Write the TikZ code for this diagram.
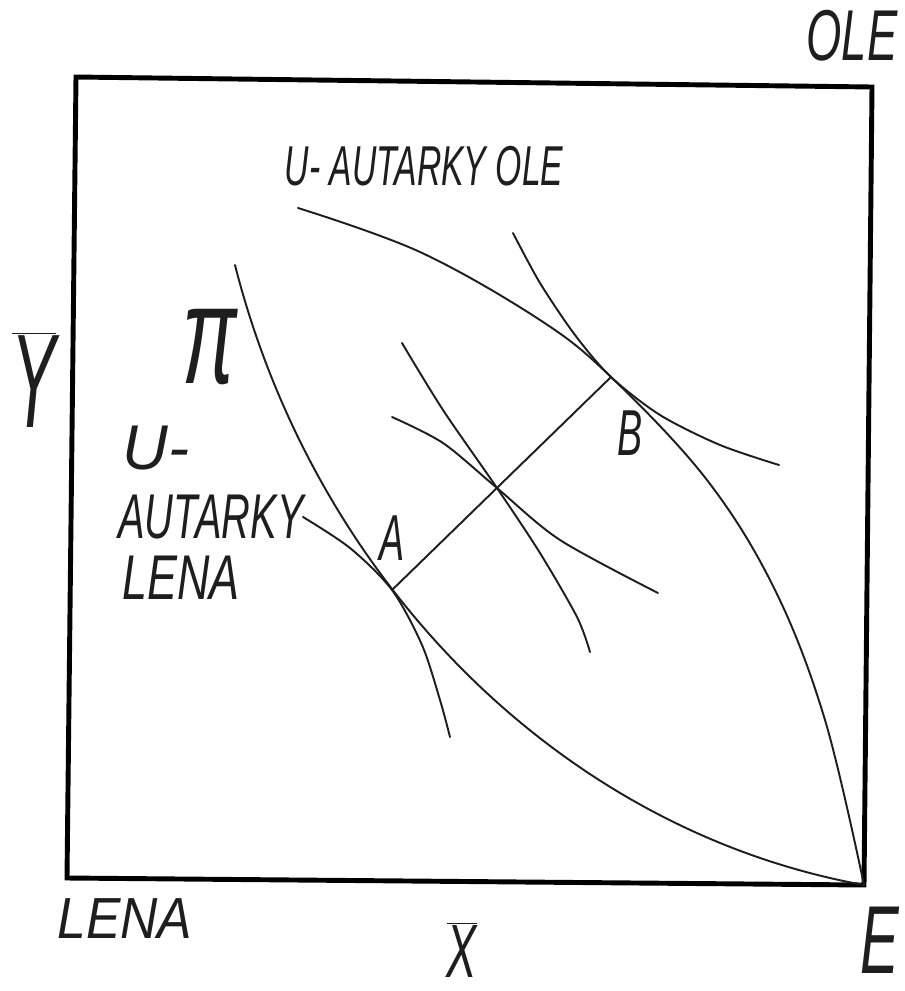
\documentclass[tikz,border=0pt]{standalone}
\usepackage{fontspec}
\setmainfont{Liberation Sans}
\definecolor{Pencil}{HTML}{1E1E1E}

\begin{document}
\begin{tikzpicture}[x=0.02cm, y=-0.02cm,
    frame/.style={draw=black, line width=2.8pt, line join=miter},
    curve/.style={draw=Pencil, line width=1.1pt, line cap=round},
    lbl/.style 2 args={font=\fontsize{#1}{#1}\selectfont\itshape, text=Pencil, xscale=#2, inner sep=0pt}]
  \useasboundingbox (0,0) rectangle (905,991);
  % box, Lena bottom left, Ole top right
  \coordinate (tl) at (76,77);
  \coordinate (tr) at (872,87);
  \coordinate (E) at (864,885);
  \coordinate (bl) at (67,878);
  \draw[frame] (tl) -- (tr) -- (E) -- (bl) -- cycle;

  \coordinate (A) at (392,590);
  \coordinate (B) at (611,377);
  \coordinate (M) at (497,488);

  % production frontier
  \draw[curve] (235,265) .. controls (315,580) and (560,830) .. (E);
  % U-autarky Ole
  \draw[curve] plot[smooth, tension=0.6] coordinates {(298,208) (420,252) (540,320) (B) (707,480) (775,590) (825,720) (E)};
  % indifference curves at B, M and A
  \draw[curve] plot[smooth] coordinates {(513,233) (540,283) (575,335) (B) (660,415) (720,445) (779,465)};
  \draw[curve] plot[smooth] coordinates {(402,343) (443,410) (M) (540,553) (577,617) (590,652)};
  \draw[curve] plot[smooth] coordinates {(392,417) (443,443) (M) (560,540) (658,593)};
  \draw[curve] plot[smooth] coordinates {(303,517) (350,548) (A) (422,645) (440,700) (450,737)};
  \draw[curve] (A) -- (B);

  \node[lbl={41}{0.63}] (ole) at (852,36) {OLE};
  \node[lbl={32}{0.6}] (uole) at (424,166) {U- AUTARKY OLE};
  \node[lbl={80}{0.58}] (pi) at (210,347) {π};
  \node[lbl={76}{0.5}] (ybar) at (34,380) {$\overline{\mbox{Y}}$};
  \node[lbl={36}{1}] (u) at (156,448) {U-};
  \node[lbl={36}{0.63}] (aut) at (211,517) {AUTARKY};
  \node[lbl={36}{0.71}] (lena) at (181,578) {LENA};
  \node[lbl={37}{0.58}] (alab) at (392,538) {A};
  \node[lbl={37}{0.58}] (blab) at (630,433) {B};
  \node[lbl={33}{0.89}] (lena0) at (125,919) {LENA};
  \node[lbl={43}{0.6}] (xbar) at (462,950) {$\overline{\mbox{X}}$};
  \node[lbl={55}{0.6}] (elab) at (880,940) {E};
\end{tikzpicture}
\end{document}
